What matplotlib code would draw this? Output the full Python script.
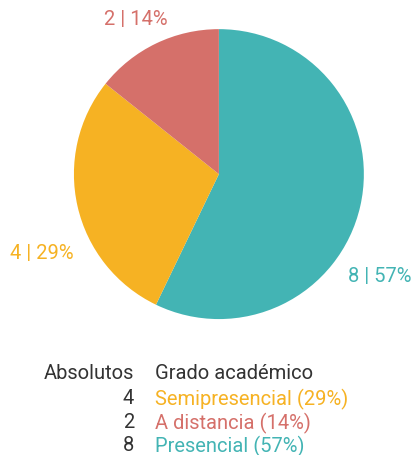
import matplotlib
matplotlib.use("Agg")
from matplotlib import pyplot as plt

# Data
categories = ["Presencial", "Semipresencial", "A distancia"]
values = [8, 4, 2]
colors = ["#43b4b4", "#f6b223", "#d5706a"]
legend_order = [1, 2, 0]

total = sum(values)
pcts = [round(v / total * 100) for v in values]

plt.rcParams["font.family"] = ["Roboto", "DejaVu Sans"]
fs = 14.5

fig = plt.figure(figsize=(4.13, 4.56), dpi=100)
ax = fig.add_axes([0.179, 0.298, 0.702, 0.636])
ax.pie(values, colors=colors, startangle=90, counterclock=False,
       radius=1, wedgeprops=dict(linewidth=0))
ax.set_xlim(-1, 1)
ax.set_ylim(-1, 1)
ax.set_aspect("equal")
ax.axis("off")

# Outside labels "n | pct%"
label_pos = [(1.11, -0.70), (-1.22, -0.54), (-0.57, 1.07)]
for v, p, c, (x, y) in zip(values, pcts, colors, label_pos):
    ax.text(x, y, f"{v} | {p}%", color=c, fontsize=fs,
            ha="center", va="center", clip_on=False)

# Table-style legend below
col1_x = 134 / 413
col2_x = 155 / 413
row_y = [374, 399, 423, 446]
fig.text(col1_x, 1 - row_y[0] / 456, "Absolutos", ha="right", va="center",
         fontsize=fs, color="#333333")
fig.text(col2_x, 1 - row_y[0] / 456, "Grado académico", ha="left", va="center",
         fontsize=fs, color="#333333")
for i, idx in enumerate(legend_order):
    yy = 1 - row_y[i + 1] / 456
    fig.text(col1_x, yy, str(values[idx]), ha="right", va="center",
             fontsize=fs, color="#333333")
    fig.text(col2_x, yy, f"{categories[idx]} ({pcts[idx]}%)", ha="left",
             va="center", fontsize=fs, color=colors[idx])

fig.savefig("out.png", dpi=100)
